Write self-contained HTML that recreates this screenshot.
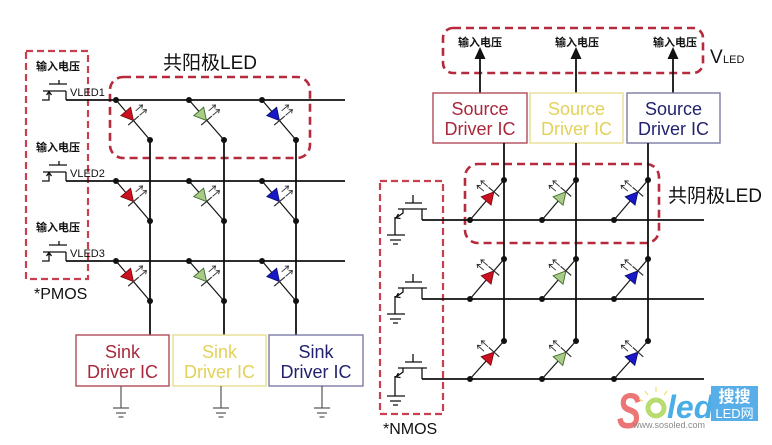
<!DOCTYPE html>
<html><head><meta charset="utf-8"><style>
html,body{margin:0;padding:0;background:#fff;}
svg{display:block;}
text{font-family:"Liberation Sans","Noto Sans CJK SC",sans-serif;}
</style></head><body>
<svg width="772" height="445" viewBox="0 0 772 445" xmlns="http://www.w3.org/2000/svg" xmlns:xlink="http://www.w3.org/1999/xlink">
<defs>
<g id="arr" fill="none" stroke="#333" stroke-width="0.9">
<path d="M0,-8 V-17 M-2.3,-14 L0,-17 L2.3,-14"/>
<path d="M6,-8 V-17 M3.7,-14 L6,-17 L8.3,-14"/>
</g>
<g id="ledR"><polygon points="-6,-6.5 -6,6.5 6,0" fill="#cc1020" stroke="#6a0a10" stroke-width="0.8"/><line x1="6" y1="-7" x2="6" y2="7" stroke="#333" stroke-width="1.2"/><use href="#arr" xlink:href="#arr"/></g>
<g id="ledG"><polygon points="-6,-6.5 -6,6.5 6,0" fill="#a8cc88" stroke="#3d6a25" stroke-width="0.9"/><line x1="6" y1="-7" x2="6" y2="7" stroke="#333" stroke-width="1.2"/><use href="#arr" xlink:href="#arr"/></g>
<g id="ledB"><polygon points="-6,-6.5 -6,6.5 6,0" fill="#1818c8" stroke="#0a0a60" stroke-width="0.8"/><line x1="6" y1="-7" x2="6" y2="7" stroke="#333" stroke-width="1.2"/><use href="#arr" xlink:href="#arr"/></g>
</defs>
<rect width="772" height="445" fill="#fff"/>

<!-- ================= LEFT ================= -->
<!-- PMOS dashed box -->
<rect x="26" y="51" width="62" height="228" fill="none" stroke="#c84050" stroke-width="2.2" stroke-dasharray="7,4"/>
<!-- LED dashed box -->
<rect x="110" y="77" width="200" height="81" rx="13" fill="none" stroke="#b52a3c" stroke-width="2.6" stroke-dasharray="8,5"/>
<text x="163" y="69" font-size="19" fill="#111">共阳极LED</text>

<g stroke="#111" stroke-width="1.8" fill="none">
<!-- rows -->
<line x1="66" y1="100" x2="345" y2="100"/>
<line x1="66" y1="181" x2="345" y2="181"/>
<line x1="66" y1="261" x2="345" y2="261"/>
<!-- columns -->
<line x1="150" y1="140" x2="150" y2="335"/>
<line x1="224" y1="140" x2="224" y2="335"/>
<line x1="296" y1="140" x2="296" y2="335"/>
</g>
<!-- diagonals -->
<g stroke="#111" stroke-width="1.2">
<line x1="116" y1="100" x2="150" y2="140"/><line x1="189" y1="100" x2="224" y2="140"/><line x1="262" y1="100" x2="296" y2="140"/>
<line x1="116" y1="181" x2="150" y2="221"/><line x1="189" y1="181" x2="224" y2="221"/><line x1="262" y1="181" x2="296" y2="221"/>
<line x1="116" y1="261" x2="150" y2="301"/><line x1="189" y1="261" x2="224" y2="301"/><line x1="262" y1="261" x2="296" y2="301"/>
</g>
<g fill="#111">
<circle cx="116" cy="100" r="3"/><circle cx="189" cy="100" r="3"/><circle cx="262" cy="100" r="3"/>
<circle cx="150" cy="140" r="3"/><circle cx="224" cy="140" r="3"/><circle cx="296" cy="140" r="3"/>
<circle cx="116" cy="181" r="3"/><circle cx="189" cy="181" r="3"/><circle cx="262" cy="181" r="3"/>
<circle cx="150" cy="221" r="3"/><circle cx="224" cy="221" r="3"/><circle cx="296" cy="221" r="3"/>
<circle cx="116" cy="261" r="3"/><circle cx="189" cy="261" r="3"/><circle cx="262" cy="261" r="3"/>
<circle cx="150" cy="301" r="3"/><circle cx="224" cy="301" r="3"/><circle cx="296" cy="301" r="3"/>
</g>
<!-- LEDs left -->
<use href="#ledR" xlink:href="#ledR" transform="translate(129.6,116) rotate(49.6)"/>
<use href="#ledG" xlink:href="#ledG" transform="translate(202.6,116) rotate(49.6)"/>
<use href="#ledB" xlink:href="#ledB" transform="translate(275.6,116) rotate(49.6)"/>
<use href="#ledR" xlink:href="#ledR" transform="translate(129.6,197) rotate(49.6)"/>
<use href="#ledG" xlink:href="#ledG" transform="translate(202.6,197) rotate(49.6)"/>
<use href="#ledB" xlink:href="#ledB" transform="translate(275.6,197) rotate(49.6)"/>
<use href="#ledR" xlink:href="#ledR" transform="translate(129.6,277) rotate(49.6)"/>
<use href="#ledG" xlink:href="#ledG" transform="translate(202.6,277) rotate(49.6)"/>
<use href="#ledB" xlink:href="#ledB" transform="translate(275.6,277) rotate(49.6)"/>

<!-- PMOS transistors -->
<g stroke="#111" stroke-width="1.3" fill="none">
<path d="M59,80 V84 M49,84 H67 M43,91 H66 M66,91 V100 M49,91 V100 H42 M46.5,95 L49,91.5 L51.5,95"/>
<path d="M59,161 V165 M49,165 H67 M43,172 H66 M66,172 V181 M49,172 V181 H42 M46.5,176 L49,172.5 L51.5,176"/>
<path d="M59,241 V245 M49,245 H67 M43,252 H66 M66,252 V261 M49,252 V261 H42 M46.5,256 L49,252.5 L51.5,256"/>
</g>
<g font-size="11" fill="#111">
<text x="36" y="70" font-weight="bold">输入电压</text>
<text x="36" y="151" font-weight="bold">输入电压</text>
<text x="36" y="231" font-weight="bold">输入电压</text>
<text x="70" y="96">VLED1</text>
<text x="70" y="177">VLED2</text>
<text x="70" y="257">VLED3</text>
</g>
<text x="34" y="299" font-size="16" fill="#111">*PMOS</text>

<!-- Sink driver boxes -->
<rect x="76" y="335" width="93" height="51" fill="#fff" stroke="#b04a58" stroke-width="1.4"/>
<rect x="173" y="335" width="93" height="51" fill="#fff" stroke="#e8de90" stroke-width="1.4"/>
<rect x="269" y="335" width="94" height="51" fill="#fff" stroke="#7c7ca4" stroke-width="1.4"/>
<g font-size="18" text-anchor="middle">
<text x="122.5" y="358" fill="#a8283c">Sink</text><text x="122.5" y="378" fill="#a8283c">Driver IC</text>
<text x="219.5" y="358" fill="#e2d25a">Sink</text><text x="219.5" y="378" fill="#e2d25a">Driver IC</text>
<text x="316" y="358" fill="#22226e">Sink</text><text x="316" y="378" fill="#22226e">Driver IC</text>
</g>
<g stroke="#555" stroke-width="1.2">
<line x1="121" y1="386" x2="121" y2="408"/><line x1="113" y1="408" x2="129" y2="408"/><line x1="116" y1="413" x2="126" y2="413"/><line x1="118.5" y1="417" x2="123.5" y2="417"/>
<line x1="221" y1="386" x2="221" y2="408"/><line x1="213" y1="408" x2="229" y2="408"/><line x1="216" y1="413" x2="226" y2="413"/><line x1="218.5" y1="417" x2="223.5" y2="417"/>
<line x1="322" y1="386" x2="322" y2="408"/><line x1="314" y1="408" x2="330" y2="408"/><line x1="317" y1="413" x2="327" y2="413"/><line x1="319.5" y1="417" x2="324.5" y2="417"/>
</g>

<!-- ================= RIGHT ================= -->
<rect x="443" y="28" width="260" height="45" rx="10" fill="none" stroke="#b52a3c" stroke-width="2.6" stroke-dasharray="8,5"/>
<g font-size="11" font-weight="bold" fill="#111" text-anchor="middle">
<text x="480" y="46">输入电压</text><text x="577" y="46">输入电压</text><text x="675" y="46">输入电压</text>
</g>
<g stroke="#111" stroke-width="1.8">
<line x1="480" y1="93" x2="480" y2="57"/><line x1="576" y1="93" x2="576" y2="57"/><line x1="673" y1="93" x2="673" y2="57"/>
</g>
<g fill="#111">
<polygon points="474.5,59 485.5,59 480,47"/><polygon points="570.5,59 581.5,59 576,47"/><polygon points="667.5,59 678.5,59 673,47"/>
</g>
<text x="710" y="63" font-size="19" fill="#111">V</text>
<text x="723" y="63" font-size="11" fill="#111">LED</text>

<rect x="433" y="93" width="94" height="50" fill="#fff" stroke="#b04a58" stroke-width="1.4"/>
<rect x="530" y="93" width="93" height="50" fill="#fff" stroke="#e8de90" stroke-width="1.4"/>
<rect x="627" y="93" width="93" height="50" fill="#fff" stroke="#7c7ca4" stroke-width="1.4"/>
<g font-size="18" text-anchor="middle">
<text x="480" y="115" fill="#a8283c">Source</text><text x="480" y="135" fill="#a8283c">Driver IC</text>
<text x="576.5" y="115" fill="#e2d25a">Source</text><text x="576.5" y="135" fill="#e2d25a">Driver IC</text>
<text x="673.5" y="115" fill="#22226e">Source</text><text x="673.5" y="135" fill="#22226e">Driver IC</text>
</g>

<!-- NMOS box and right LED box -->
<rect x="380" y="181" width="63" height="233" fill="none" stroke="#c84050" stroke-width="2.2" stroke-dasharray="7,4"/>
<rect x="465" y="164" width="194" height="79" rx="13" fill="none" stroke="#b52a3c" stroke-width="2.6" stroke-dasharray="8,5"/>
<text x="668" y="202" font-size="19" fill="#111">共阴极LED</text>

<g stroke="#111" stroke-width="1.8" fill="none">
<line x1="422" y1="220" x2="704" y2="220"/>
<line x1="422" y1="299" x2="704" y2="299"/>
<line x1="422" y1="379" x2="704" y2="379"/>
<line x1="504" y1="143" x2="504" y2="341"/>
<line x1="576" y1="143" x2="576" y2="341"/>
<line x1="648" y1="143" x2="648" y2="341"/>
</g>
<g stroke="#111" stroke-width="1.2">
<line x1="470" y1="220" x2="504" y2="180"/><line x1="542" y1="220" x2="576" y2="180"/><line x1="614" y1="220" x2="648" y2="180"/>
<line x1="470" y1="299" x2="504" y2="259"/><line x1="542" y1="299" x2="576" y2="259"/><line x1="614" y1="299" x2="648" y2="259"/>
<line x1="470" y1="379" x2="504" y2="341"/><line x1="542" y1="379" x2="576" y2="341"/><line x1="614" y1="379" x2="648" y2="341"/>
</g>
<g fill="#111">
<circle cx="470" cy="220" r="3"/><circle cx="542" cy="220" r="3"/><circle cx="614" cy="220" r="3"/>
<circle cx="504" cy="180" r="3"/><circle cx="576" cy="180" r="3"/><circle cx="648" cy="180" r="3"/>
<circle cx="470" cy="299" r="3"/><circle cx="542" cy="299" r="3"/><circle cx="614" cy="299" r="3"/>
<circle cx="504" cy="259" r="3"/><circle cx="576" cy="259" r="3"/><circle cx="648" cy="259" r="3"/>
<circle cx="470" cy="379" r="3"/><circle cx="542" cy="379" r="3"/><circle cx="614" cy="379" r="3"/>
<circle cx="504" cy="341" r="3"/><circle cx="576" cy="341" r="3"/><circle cx="648" cy="341" r="3"/>
</g>
<use href="#ledR" xlink:href="#ledR" transform="translate(490,196.4) rotate(-49.6)"/>
<use href="#ledG" xlink:href="#ledG" transform="translate(562,196.4) rotate(-49.6)"/>
<use href="#ledB" xlink:href="#ledB" transform="translate(634,196.4) rotate(-49.6)"/>
<use href="#ledR" xlink:href="#ledR" transform="translate(490,275.4) rotate(-49.6)"/>
<use href="#ledG" xlink:href="#ledG" transform="translate(562,275.4) rotate(-49.6)"/>
<use href="#ledB" xlink:href="#ledB" transform="translate(634,275.4) rotate(-49.6)"/>
<use href="#ledR" xlink:href="#ledR" transform="translate(490,356.6) rotate(-48)"/>
<use href="#ledG" xlink:href="#ledG" transform="translate(562,356.6) rotate(-48)"/>
<use href="#ledB" xlink:href="#ledB" transform="translate(634,356.6) rotate(-48)"/>

<!-- NMOS transistors -->
<g stroke="#111" stroke-width="1.3" fill="none">
<path d="M413,195 V203 M405,203 H422 M398,209 H427 M422,209 V220 M403,209 V213 L396,218 M398.5,214 L396,218 L400.5,218.5 M395,217 V235 M387,235 H405 M390,240 H401 M393,244 H398"/>
<path d="M413,274 V282 M405,282 H422 M398,288 H427 M422,288 V299 M403,288 V292 L396,297 M398.5,293 L396,297 L400.5,297.5 M395,296 V314 M387,314 H405 M390,319 H401 M393,323 H398"/>
<path d="M413,354 V362 M405,362 H422 M398,368 H427 M422,368 V379 M403,368 V372 L396,377 M398.5,373 L396,377 L400.5,377.5 M395,376 V396 M387,396 H405 M390,401 H401 M393,405 H398"/>
</g>
<text x="383" y="434" font-size="16" fill="#111">*NMOS</text>

<!-- Logo -->
<text x="0" y="0" font-size="50" font-weight="bold" font-style="italic" fill="#ec7676" transform="translate(617,428) scale(0.72,1)">S</text>
<g stroke="#f0e070" stroke-width="1.2">
<line x1="656" y1="392" x2="656" y2="387"/><line x1="648" y1="395" x2="645" y2="391"/><line x1="664" y1="395" x2="667" y2="391"/><line x1="643" y1="401" x2="639" y2="399"/>
</g>
<circle cx="656" cy="408" r="8" fill="none" stroke="#b8dc70" stroke-width="5"/>
<text x="667" y="418" font-size="32" font-weight="bold" font-style="italic" fill="#4aaee6">led</text>
<text x="633" y="428" font-size="9" fill="#8a8a8a">www.sosoled.com</text>
<rect x="711" y="386" width="47" height="35" fill="#58aee8"/>
<text x="734.5" y="402" font-size="16" font-weight="bold" fill="#fff" text-anchor="middle">搜搜</text>
<text x="734.5" y="418" font-size="13" fill="#fff" text-anchor="middle">LED网</text>
</svg>
</body></html>
